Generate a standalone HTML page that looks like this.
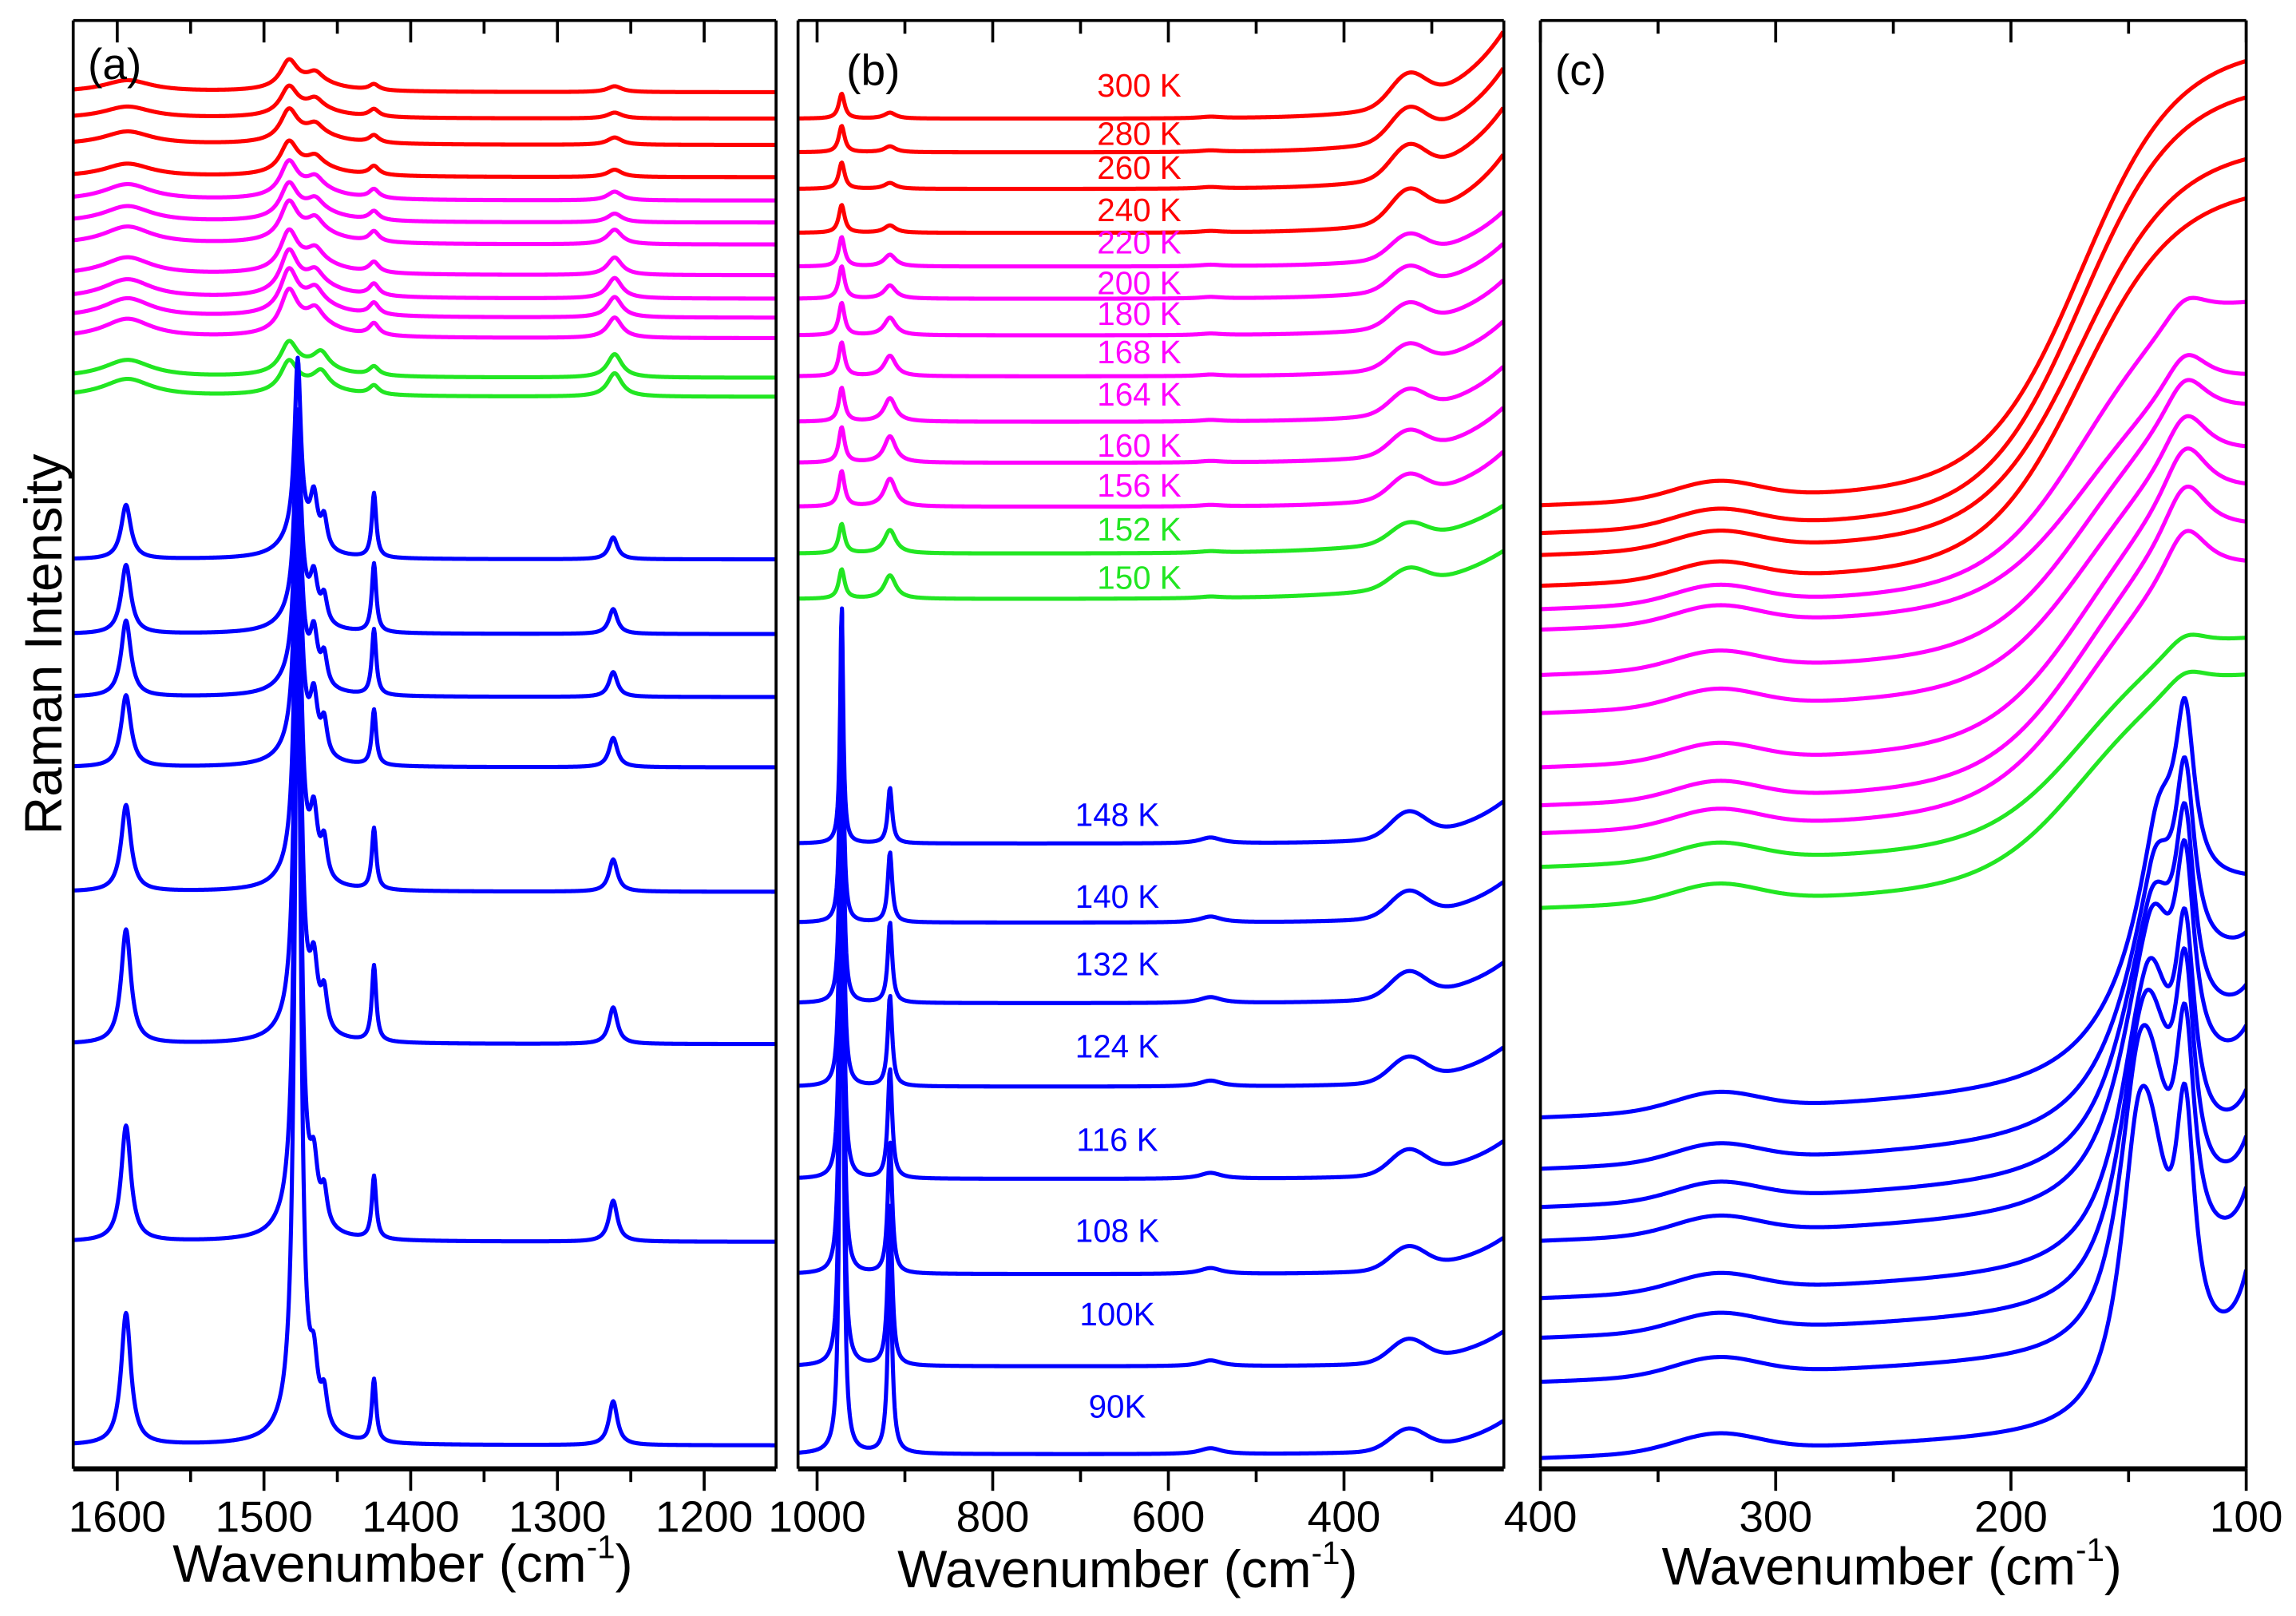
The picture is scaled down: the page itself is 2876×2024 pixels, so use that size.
<!DOCTYPE html>
<html><head><meta charset="utf-8"><title>Raman spectra</title>
<style>
html,body{margin:0;padding:0;background:#fff;}
svg{display:block;}
text{font-family:"Liberation Sans",Arial,sans-serif;}
</style></head>
<body>
<svg id="fig" xmlns="http://www.w3.org/2000/svg" width="2876" height="2024" viewBox="0 0 1568 1103.5" preserveAspectRatio="none">
<rect x="0" y="0" width="1568" height="1103.5" fill="#fff"/>
<defs>
<clipPath id="clipA"><rect x="50" y="14" width="480" height="989"/></clipPath>
<clipPath id="clipB"><rect x="545" y="14" width="482" height="989"/></clipPath>
<clipPath id="clipC"><rect x="1052" y="14" width="482" height="989"/></clipPath>
</defs>
<g id="series"></g>
<g id="axes"></g>
<text x="0" y="0" transform="translate(42,440) rotate(-90)" text-anchor="middle" font-size="36">Raman Intensity</text>
<text x="60" y="54" font-size="30">(a)</text>
<text x="578" y="58" font-size="30">(b)</text>
<text x="1062" y="58" font-size="30">(c)</text>
<text x="275" y="1080" text-anchor="middle" font-size="36">Wavenumber (cm<tspan font-size="22" dy="-16">-1</tspan><tspan dy="16">)</tspan></text>
<text x="770" y="1084" text-anchor="middle" font-size="36">Wavenumber (cm<tspan font-size="22" dy="-16">-1</tspan><tspan dy="16">)</tspan></text>
<text x="1292" y="1082" text-anchor="middle" font-size="36">Wavenumber (cm<tspan font-size="22" dy="-16">-1</tspan><tspan dy="16">)</tspan></text>
</svg>
<script>
// ---------- data ----------
const temperatures = ["300 K","280 K","260 K","240 K","220 K","200 K","180 K","168 K","164 K","160 K","156 K","152 K","150 K","148 K","140 K","132 K","124 K","116 K","108 K","100K","90K"];
const phases = ["r","r","r","r","m","m","m","m","m","m","m","g","g","b","b","b","b","b","b","b","b"];
const phaseColors = {r:"#ff0000", m:"#ff00ff", g:"#22e622", b:"#0000ff"};

// panel a
const aBaseline = [63,81,99,121,137,152,167,188,204,217,231,258,271,382,433,476,524,609,713,848,987];
const aPeak1595 = [8,8,9,9,11,11,12,12,13,13,13,12,12,37,47,52,49,59,78,79,90];
const aPeak1480 = [18,18,20,20,22,22,24,25,27,27,27,20,20,117,133,156,184,249,333,448,567];
const aPeak1465 = [6,6,6,6,7,7,8,8,8,9,9,10,10,40,35,40,45,50,50,45,45];
const aPeak1425 = [4,5,5,6,6,6,7,7,8,8,8,6,6,44,47,45,38,42,52,43,43];
const aPeak1262 = [4,4,5,5,6,6,10,12,14,14,14,16,16,15,17,17,20,22,25,28,30];
const aTicks = [1600,1500,1400,1300,1200];

// panel b
const bBaseline = [81,104,129,159,182,204,229,257,288,316,346,378,409,576,630,685,742,805,870,933,993];
const bPeak975 = [17,18,18,19,20,22,22,23,23,24,24,20,20,164,218,273,330,393,458,521,581];
const bPeak920 = [4,4,4,5,8,9,12,14,16,18,19,16,16,38,48,55,62,75,90,110,130];
const bBump327 = [20,20,20,20,15,15,15,15,15,15,15,12,12,17,17,17,16,16,15,15,14];
const bEdgeAmp = [60,58,56,54,38,38,38,38,38,38,38,33,33,29,28,28,27,26,25,24,23];
const bEdgeDecay = [65,65,65,65,67,67,67,67,67,67,67,86,86,62,62,62,61,60,60,59,58];
const bTicks = [1000,800,600,400];
const bLabelY = [58,91,114,143,165,193,214,240,269,304,331,361,394,556,612,658,714,778,840,897,960];

// panel c
const cBaseline = [345,364,379,400,416,430,461,487,524,550,569,592,620,764,799,825,848,887,914,944,996];
const cStep = [294,288,260,254,194,156,166,162,173,173,166,140,143,0,0,0,0,0,0,0,0];
const cPeak126 = [0,0,0,0,20,30,35,40,45,45,40,15,15,120,130,135,140,145,150,155,165];
const cBroadH = [0,0,0,0,0,0,0,0,0,0,0,0,0,100,120,135,150,165,180,195,210];
const cBroadC = [0,0,0,0,0,0,0,0,0,0,0,0,0,140,141,142,142,143,144,145,145];
const cBroadRight = [1,1,1,1,1,1,1,1,1,1,1,1,1,25,22,19,17,15,13,11,10];
const cBroadLeft = [1,1,1,1,1,1,1,1,1,1,1,1,1,10,10,11,11,11,12,12,12];
const cPedestal = [0,0,0,0,0,0,0,0,0,0,0,0,0,145,130,115,105,95,85,75,60];
const cEdge = [0,0,0,0,0,0,0,0,0,0,0,0,0,0,10,15,20,25,30,35,45];
const cTicks = [400,300,200,100];

// ---------- geometry ----------
const TOP = 14, BOT = 1003;
const panelA = {x0:50, x1:530, w0:1630, w1:1151};
const panelB = {x0:545, x1:1027, w0:1021.7, w1:218};
const panelC = {x0:1052, x1:1534, w0:400, w1:100};
function xScale(p, w){ return p.x0 + (p.w0 - w)/(p.w0 - p.w1)*(p.x1 - p.x0); }
function L(w,c,h,g){ return h/(1+((w-c)/g)*((w-c)/g)); }
function G(w,c,h,s){ return h*Math.exp(-((w-c)/s)*((w-c)/s)); }

function intensityA(i, w){
  const cold = phases[i]==="b";
  let v = 0;
  if(cold){
    v += L(w,1594,aPeak1595[i],4);
    v += L(w,1477,aPeak1480[i],2.5) + L(w,1477,18,12);
    v += L(w,1466,aPeak1465[i]*0.8,3) + L(w,1459,aPeak1465[i]*0.5,2.5);
    v += L(w,1425,aPeak1425[i],1.8);
    v += L(w,1262,aPeak1262[i],3.5);
  } else {
    v += L(w,1593,aPeak1595[i],20);
    v += L(w,1483,aPeak1480[i],7) + L(w,1466,aPeak1480[i]*0.35,20);
    v += L(w,phases[i]==="g"?1461:1465,aPeak1465[i],6);
    v += L(w,1425,aPeak1425[i],4);
    v += L(w,1261,aPeak1262[i],6);
  }
  return v;
}
function intensityB(i, w){
  const cold = phases[i]==="b";
  let v = 0;
  v += L(w,972,bPeak975[i],cold?2:4);
  v += L(w,917,bPeak920[i],cold?3:8);
  v += G(w,327,bBump327[i],28);
  v += L(w,552,cold?4:1,15);
  v += bEdgeAmp[i]*Math.exp(-(w-218)/bEdgeDecay[i]);
  return v;
}
function intensityC(i, w){
  const cold = phases[i]==="b";
  let v = G(w,325,12,25) + 0.06*(400-w);
  v += cStep[i]/(1+Math.exp((w-170)/20));
  v += L(w,126,cPeak126[i],cold?5:12);
  if(cBroadH[i]>0){
    const c = cBroadC[i];
    v += (w>=c) ? L(w,c,cBroadH[i],cBroadRight[i]) : G(w,c,cBroadH[i],cBroadLeft[i]);
  }
  v += cPedestal[i]/(1+Math.exp((w-140)/5));
  v += cEdge[i]*Math.exp(-(w-100)/6);
  return v;
}

const NS = "http://www.w3.org/2000/svg";
const seriesG = document.getElementById("series");
const axesG = document.getElementById("axes");

function drawPanel(p, clipId, fn, baseArr, step, key){
  const g = document.createElementNS(NS,"g");
  g.setAttribute("clip-path","url(#"+clipId+")");
  
  
  for(let i=0;i<baseArr.length;i++){
    let d = "";
    for(let w=p.w0; w>=p.w1-0.001; w-=step){
      const x = xScale(p,w), y = baseArr[i] - fn(i,w);
      d += (d?"L":"M") + x.toFixed(2) + "," + y.toFixed(2);
    }
    const path = document.createElementNS(NS,"path");
    path.setAttribute("d", d);
    path.setAttribute("fill","none");
    path.setAttribute("stroke", phaseColors[phases[i]]);
    path.setAttribute("stroke-width","2.8");
    path.setAttribute("stroke-linejoin","round");
    
    
    g.appendChild(path);
  }
  seriesG.appendChild(g);
}
drawPanel(panelA,"clipA",intensityA,aBaseline,0.5,"a");
drawPanel(panelB,"clipB",intensityB,bBaseline,1,"b");
drawPanel(panelC,"clipC",intensityC,cBaseline,0.5,"c");

function line(x1,y1,x2,y2,sw,name){
  const l = document.createElementNS(NS,"line");
  l.setAttribute("x1",x1);l.setAttribute("y1",y1);l.setAttribute("x2",x2);l.setAttribute("y2",y2);
  l.setAttribute("stroke","#000");l.setAttribute("stroke-width",sw);
  
  
  axesG.appendChild(l);
}
function text(x,y,s,size,anchor,color,name){
  const t = document.createElementNS(NS,"text");
  t.setAttribute("x",x);t.setAttribute("y",y);t.setAttribute("font-size",size);
  t.setAttribute("text-anchor",anchor);t.setAttribute("fill",color);
  t.textContent = s;
  
  
  axesG.appendChild(t);
}
function drawAxes(p, ticks, minorStep, key){
  line(p.x0,TOP,p.x1,TOP,2,"panel-"+key+"-top-axis");
  line(p.x0,BOT,p.x1,BOT,3.5,"panel-"+key+"-x-axis");
  line(p.x0,TOP,p.x0,BOT,2,"panel-"+key+"-left-axis");
  line(p.x1,TOP,p.x1,BOT,2,"panel-"+key+"-right-axis");
  const lo = Math.min(p.w0,p.w1), hi = Math.max(p.w0,p.w1);
  const start = Math.ceil(lo/minorStep)*minorStep;
  for(let w=start; w<=hi; w+=minorStep){
    const major = (w % (minorStep*2))===0;
    const x = xScale(p,w);
    const len = major?15:9;
    line(x,BOT,x,BOT+len,2,"panel-"+key+"-tick-"+w);
    line(x,TOP,x,TOP+len,2,"panel-"+key+"-top-tick-"+w);
  }
  ticks.forEach(w=>{
    text(xScale(p,w),1046,String(w),30,"middle","#000","panel-"+key+"-tick-label-"+w);
  });
}
drawAxes(panelA,aTicks,50,"a");
drawAxes(panelB,bTicks,100,"b");
drawAxes(panelC,cTicks,50,"c");

temperatures.forEach((t,i)=>{
  const cold = phases[i]==="b";
  text(cold?763:778, bLabelY[i]+8, t, 22, "middle", phaseColors[phases[i]], "temperature-label-"+t.replace(/\s/g,'').toLowerCase());
});
</script>
</body></html>
